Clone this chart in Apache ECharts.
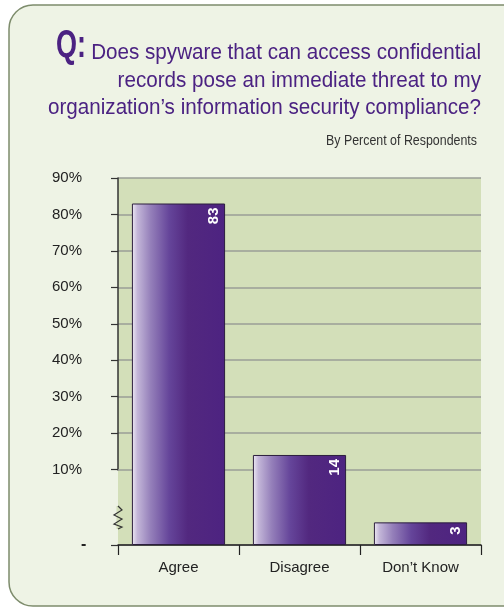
<!DOCTYPE html>
<html>
<head>
<meta charset="utf-8">
<script src="https://cdn.jsdelivr.net/npm/echarts@6/dist/echarts.min.js"></script>
<style>
  html, body { margin: 0; padding: 0; background: #ffffff; }
  #chart { width: 504px; height: 608px; }
</style>
</head>
<body>
<div id="chart"></div>
<script>
// chart data
var categories = ['Agree', 'Disagree', 'Don\u2019t Know'];
var percents = [83, 14, 3];
var yTicks = [0, 10, 20, 30, 40, 50, 60, 70, 80, 90];
var titleLines = [
  'Does spyware that can access confidential',
  'records pose an immediate threat to my',
  'organization\u2019s information security compliance?'
];
var subtitle = 'By Percent of Respondents';

var SANS = '"Liberation Sans", Arial, sans-serif';
var PURPLE = '#4b2282';
var PLOT_BG = '#d3dfb9';
var GRID_GRAY = '#9a9e97';

var grid = { left: 118, right: 23, top: 178, bottom: 63 };

// the original uses a condensed face; squeeze a regular sans to the same widths
var ctx = document.createElement('canvas').getContext('2d');
function squeeze(text, font, width) {
  ctx.font = font;
  return width / ctx.measureText(text).width;
}
var TITLE_FONT = '22px ' + SANS;
var titleScale = squeeze(titleLines[2], TITLE_FONT, 433);
var Q_FONT = 'bold 39px ' + SANS;
var qScale = squeeze('Q:', Q_FONT, 30);
var SUB_FONT = '14px ' + SANS;
var subScale = squeeze(subtitle, SUB_FONT, 151);

var chart = echarts.init(document.getElementById('chart'));

// bar fill: light edge on the left fading into deep purple
var barFill = new echarts.graphic.LinearGradient(0, 0, 1, 0, [
  { offset: 0, color: '#eeeaf3' },
  { offset: 0.06, color: '#c3b6d8' },
  { offset: 0.2, color: '#9580ba' },
  { offset: 0.4, color: '#65459a' },
  { offset: 0.6, color: '#52287f' },
  { offset: 1, color: '#4d2381' }
]);

var titleY = [53, 80.5, 108];
var graphics = [
  {
    type: 'rect',
    z: -10,
    shape: { x: 9, y: 5, width: 530, height: 601, r: 24 },
    style: { fill: '#eef3e5', stroke: '#7d8c6c', lineWidth: 1.5 }
  },
  {
    type: 'text',
    x: 56,
    y: 46,
    scaleX: qScale,
    style: { text: 'Q:', font: Q_FONT, fill: PURPLE, align: 'left', verticalAlign: 'middle' }
  },
  {
    type: 'text',
    x: 477,
    y: 141,
    scaleX: subScale,
    style: { text: subtitle, font: SUB_FONT, fill: '#333333', align: 'right', verticalAlign: 'middle' }
  }
];
titleLines.forEach(function (line, i) {
  graphics.push({
    type: 'text',
    x: 481,
    y: titleY[i],
    scaleX: titleScale,
    style: { text: line, font: TITLE_FONT, fill: PURPLE, align: 'right', verticalAlign: 'middle' }
  });
});

// small zigzag on the value axis marking the break
var zx = grid.left;
var zTop = 506;
var zigzag = [[zx, zTop], [zx + 4, zTop + 4], [zx - 4, zTop + 9], [zx + 4, zTop + 13], [zx - 4, zTop + 18], [zx + 4, zTop + 21], [zx, zTop + 23]];
graphics.push(
  {
    type: 'rect',
    z: 99,
    shape: { x: zx - 1.5, y: zTop, width: 3, height: 23 },
    style: { fill: PLOT_BG }
  },
  {
    type: 'polyline',
    z: 100,
    shape: { points: zigzag },
    style: { stroke: '#333333', lineWidth: 1.2, fill: null }
  }
);

chart.setOption({
  backgroundColor: '#ffffff',
  animation: false,
  graphic: graphics,
  grid: {
    left: grid.left, right: grid.right, top: grid.top, bottom: grid.bottom,
    show: true,
    backgroundColor: PLOT_BG,
    borderWidth: 0
  },
  xAxis: {
    type: 'category',
    data: categories,
    axisLine: { lineStyle: { color: '#222222', width: 1.5 } },
    axisTick: { show: true, alignWithLabel: false, length: 10, lineStyle: { color: '#222222', width: 1.2 } },
    axisLabel: { fontFamily: SANS, fontSize: 15, color: '#222222', margin: 15 }
  },
  yAxis: {
    type: 'value',
    min: 0,
    max: 90,
    interval: 10,
    breaks: [{ start: 0, end: 10, gap: 20.7 }],
    breakArea: { show: false },
    axisLine: { show: true, lineStyle: { color: '#333333', width: 1.5 } },
    axisTick: { show: true, length: 7, lineStyle: { color: '#333333', width: 1.2 } },
    splitLine: { show: true, lineStyle: { color: GRID_GRAY, width: 1.5 } },
    axisLabel: {
      fontFamily: SANS,
      fontSize: 15,
      color: '#222222',
      margin: 36,
      formatter: function (v) {
        if (v === 0) return '{d|-}';
        return yTicks.indexOf(v) >= 0 ? v + '%' : '';
      },
      rich: { d: { fontFamily: SANS, fontSize: 16, fontWeight: 'bold', color: '#222222', width: 1, align: 'left' } }
    }
  },
  series: [{
    type: 'bar',
    data: percents,
    barWidth: '77%',
    itemStyle: { color: barFill, borderColor: '#2c1e3e', borderWidth: 1 },
    label: {
      show: true,
      position: 'insideTopRight',
      rotate: 90,
      align: 'right',
      verticalAlign: 'bottom',
      distance: 4,
      fontFamily: SANS,
      fontSize: 15,
      fontWeight: 'bold',
      color: '#ffffff'
    },
    // gridline at the break edge (10%)
    markLine: {
      silent: true,
      symbol: 'none',
      z: 1,
      label: { show: false },
      lineStyle: { color: GRID_GRAY, width: 1.5, type: 'solid' },
      data: [{ yAxis: 10 }]
    }
  }]
});
</script>
</body>
</html>
